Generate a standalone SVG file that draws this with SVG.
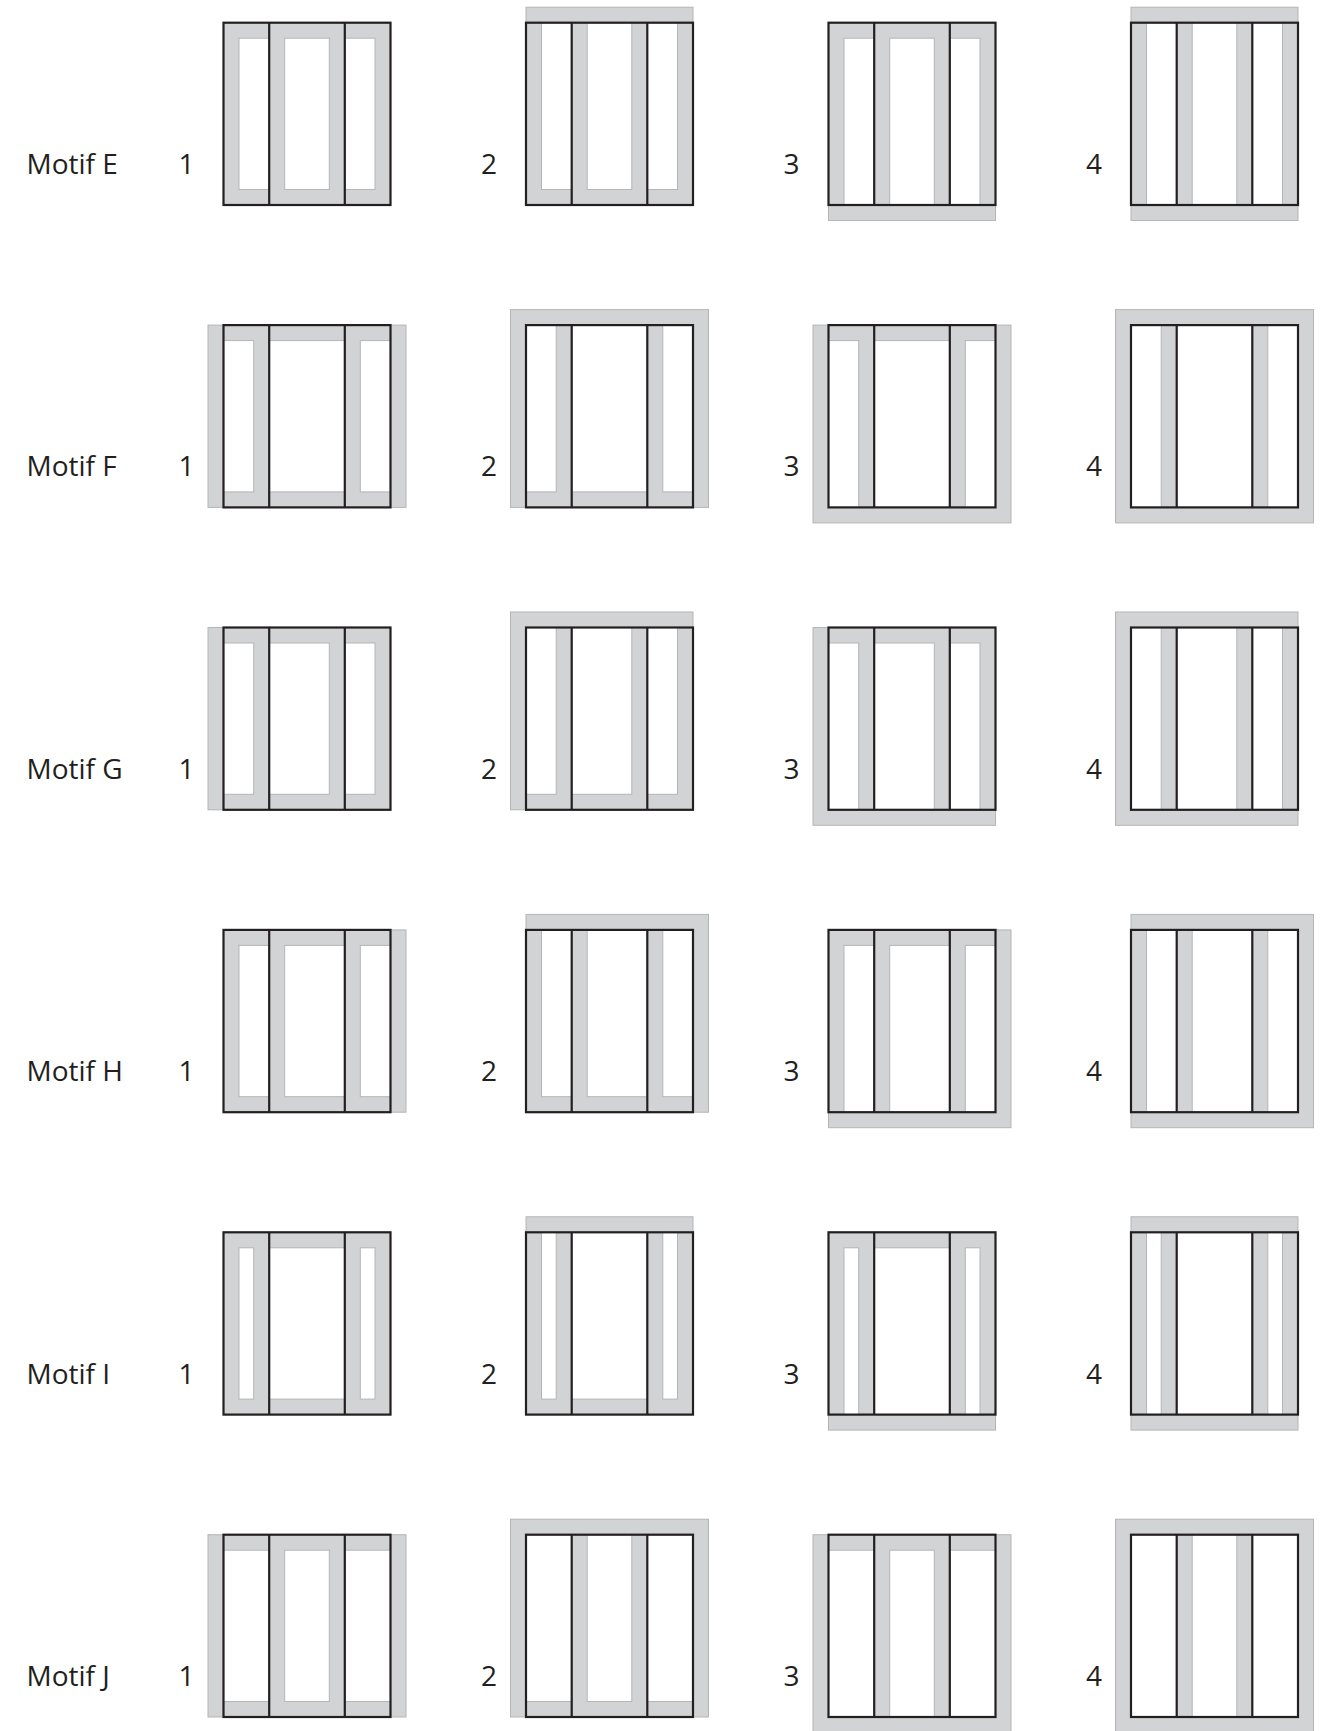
<svg xmlns="http://www.w3.org/2000/svg" xmlns:xlink="http://www.w3.org/1999/xlink" width="1322" height="1731" viewBox="0 0 1322 1731">
<style>
.g{fill:#d1d3d4;stroke:#b4b5b7;stroke-width:1}
.w{fill:#ffffff;stroke:#b4b5b7;stroke-width:1}
.k{fill:none;stroke:#231f20;stroke-width:2.2}
.t{font-family:"Open Sans","Noto Sans",sans-serif;font-size:28px;fill:#231f20}
</style>
<defs>
<g id="frame">
<rect class="k" x="0" y="0" width="167" height="182.3"/>
<line class="k" x1="45.7" y1="0" x2="45.7" y2="182.3"/>
<line class="k" x1="121.3" y1="0" x2="121.3" y2="182.3"/>
</g>
</defs>
<rect x="0" y="0" width="1322" height="1731" fill="#ffffff"/>
<g id="labels">
<text class="t" x="26.5" y="174">Motif E</text>
<text class="t" x="26.5" y="476.4">Motif F</text>
<text class="t" x="26.5" y="778.8">Motif G</text>
<text class="t" x="26.5" y="1081.2">Motif H</text>
<text class="t" x="26.5" y="1383.6">Motif I</text>
<text class="t" x="26.5" y="1686">Motif J</text>
<text class="t" x="178.5" y="174">1</text><text class="t" x="481" y="174">2</text><text class="t" x="783.5" y="174">3</text><text class="t" x="1086" y="174">4</text>
<text class="t" x="178.5" y="476.4">1</text><text class="t" x="481" y="476.4">2</text><text class="t" x="783.5" y="476.4">3</text><text class="t" x="1086" y="476.4">4</text>
<text class="t" x="178.5" y="778.8">1</text><text class="t" x="481" y="778.8">2</text><text class="t" x="783.5" y="778.8">3</text><text class="t" x="1086" y="778.8">4</text>
<text class="t" x="178.5" y="1081.2">1</text><text class="t" x="481" y="1081.2">2</text><text class="t" x="783.5" y="1081.2">3</text><text class="t" x="1086" y="1081.2">4</text>
<text class="t" x="178.5" y="1383.6">1</text><text class="t" x="481" y="1383.6">2</text><text class="t" x="783.5" y="1383.6">3</text><text class="t" x="1086" y="1383.6">4</text>
<text class="t" x="178.5" y="1686">1</text><text class="t" x="481" y="1686">2</text><text class="t" x="783.5" y="1686">3</text><text class="t" x="1086" y="1686">4</text>
</g>

<!-- Motif E -->
<g id="E1" transform="translate(223.5,22.7)">
<rect class="g" x="0" y="0" width="167" height="182.3"/>
<rect class="w" x="15.5" y="15.5" width="30.2" height="151.3"/><rect class="w" x="61.2" y="15.5" width="44.6" height="151.3"/><rect class="w" x="121.3" y="15.5" width="30.2" height="151.3"/>
<use href="#frame"/></g>
<g id="E2" transform="translate(526,22.7)">
<rect class="g" x="0" y="-15.5" width="167" height="197.8"/>
<rect class="w" x="15.5" y="0" width="30.2" height="166.8"/><rect class="w" x="61.2" y="0" width="44.6" height="166.8"/><rect class="w" x="121.3" y="0" width="30.2" height="166.8"/>
<use href="#frame"/></g>
<g id="E3" transform="translate(828.5,22.7)">
<rect class="g" x="0" y="0" width="167" height="197.8"/>
<rect class="w" x="15.5" y="15.5" width="30.2" height="166.8"/><rect class="w" x="61.2" y="15.5" width="44.6" height="166.8"/><rect class="w" x="121.3" y="15.5" width="30.2" height="166.8"/>
<use href="#frame"/></g>
<g id="E4" transform="translate(1131,22.7)">
<rect class="g" x="0" y="-15.5" width="167" height="213.3"/>
<rect class="w" x="15.5" y="0" width="30.2" height="182.3"/><rect class="w" x="61.2" y="0" width="44.6" height="182.3"/><rect class="w" x="121.3" y="0" width="30.2" height="182.3"/>
<use href="#frame"/></g>

<!-- Motif F -->
<g id="F1" transform="translate(223.5,325.1)">
<rect class="g" x="-15.5" y="0" width="198" height="182.3"/>
<rect class="w" x="0" y="15.5" width="30.2" height="151.3"/><rect class="w" x="45.7" y="15.5" width="75.6" height="151.3"/><rect class="w" x="136.8" y="15.5" width="30.2" height="151.3"/>
<use href="#frame"/></g>
<g id="F2" transform="translate(526,325.1)">
<rect class="g" x="-15.5" y="-15.5" width="198" height="197.8"/>
<rect class="w" x="0" y="0" width="30.2" height="166.8"/><rect class="w" x="45.7" y="0" width="75.6" height="166.8"/><rect class="w" x="136.8" y="0" width="30.2" height="166.8"/>
<use href="#frame"/></g>
<g id="F3" transform="translate(828.5,325.1)">
<rect class="g" x="-15.5" y="0" width="198" height="197.8"/>
<rect class="w" x="0" y="15.5" width="30.2" height="166.8"/><rect class="w" x="45.7" y="15.5" width="75.6" height="166.8"/><rect class="w" x="136.8" y="15.5" width="30.2" height="166.8"/>
<use href="#frame"/></g>
<g id="F4" transform="translate(1131,325.1)">
<rect class="g" x="-15.5" y="-15.5" width="198" height="213.3"/>
<rect class="w" x="0" y="0" width="30.2" height="182.3"/><rect class="w" x="45.7" y="0" width="75.6" height="182.3"/><rect class="w" x="136.8" y="0" width="30.2" height="182.3"/>
<use href="#frame"/></g>

<!-- Motif G -->
<g id="G1" transform="translate(223.5,627.5)">
<rect class="g" x="-15.5" y="0" width="182.5" height="182.3"/>
<rect class="w" x="0" y="15.5" width="30.2" height="151.3"/><rect class="w" x="45.7" y="15.5" width="60.1" height="151.3"/><rect class="w" x="121.3" y="15.5" width="30.2" height="151.3"/>
<use href="#frame"/></g>
<g id="G2" transform="translate(526,627.5)">
<rect class="g" x="-15.5" y="-15.5" width="182.5" height="197.8"/>
<rect class="w" x="0" y="0" width="30.2" height="166.8"/><rect class="w" x="45.7" y="0" width="60.1" height="166.8"/><rect class="w" x="121.3" y="0" width="30.2" height="166.8"/>
<use href="#frame"/></g>
<g id="G3" transform="translate(828.5,627.5)">
<rect class="g" x="-15.5" y="0" width="182.5" height="197.8"/>
<rect class="w" x="0" y="15.5" width="30.2" height="166.8"/><rect class="w" x="45.7" y="15.5" width="60.1" height="166.8"/><rect class="w" x="121.3" y="15.5" width="30.2" height="166.8"/>
<use href="#frame"/></g>
<g id="G4" transform="translate(1131,627.5)">
<rect class="g" x="-15.5" y="-15.5" width="182.5" height="213.3"/>
<rect class="w" x="0" y="0" width="30.2" height="182.3"/><rect class="w" x="45.7" y="0" width="60.1" height="182.3"/><rect class="w" x="121.3" y="0" width="30.2" height="182.3"/>
<use href="#frame"/></g>

<!-- Motif H -->
<g id="H1" transform="translate(223.5,929.9)">
<rect class="g" x="0" y="0" width="182.5" height="182.3"/>
<rect class="w" x="15.5" y="15.5" width="30.2" height="151.3"/><rect class="w" x="61.2" y="15.5" width="60.1" height="151.3"/><rect class="w" x="136.8" y="15.5" width="30.2" height="151.3"/>
<use href="#frame"/></g>
<g id="H2" transform="translate(526,929.9)">
<rect class="g" x="0" y="-15.5" width="182.5" height="197.8"/>
<rect class="w" x="15.5" y="0" width="30.2" height="166.8"/><rect class="w" x="61.2" y="0" width="60.1" height="166.8"/><rect class="w" x="136.8" y="0" width="30.2" height="166.8"/>
<use href="#frame"/></g>
<g id="H3" transform="translate(828.5,929.9)">
<rect class="g" x="0" y="0" width="182.5" height="197.8"/>
<rect class="w" x="15.5" y="15.5" width="30.2" height="166.8"/><rect class="w" x="61.2" y="15.5" width="60.1" height="166.8"/><rect class="w" x="136.8" y="15.5" width="30.2" height="166.8"/>
<use href="#frame"/></g>
<g id="H4" transform="translate(1131,929.9)">
<rect class="g" x="0" y="-15.5" width="182.5" height="213.3"/>
<rect class="w" x="15.5" y="0" width="30.2" height="182.3"/><rect class="w" x="61.2" y="0" width="60.1" height="182.3"/><rect class="w" x="136.8" y="0" width="30.2" height="182.3"/>
<use href="#frame"/></g>

<!-- Motif I -->
<g id="I1" transform="translate(223.5,1232.3)">
<rect class="g" x="0" y="0" width="167" height="182.3"/>
<rect class="w" x="15.5" y="15.5" width="14.7" height="151.3"/><rect class="w" x="45.7" y="15.5" width="75.6" height="151.3"/><rect class="w" x="136.8" y="15.5" width="14.7" height="151.3"/>
<use href="#frame"/></g>
<g id="I2" transform="translate(526,1232.3)">
<rect class="g" x="0" y="-15.5" width="167" height="197.8"/>
<rect class="w" x="15.5" y="0" width="14.7" height="166.8"/><rect class="w" x="45.7" y="0" width="75.6" height="166.8"/><rect class="w" x="136.8" y="0" width="14.7" height="166.8"/>
<use href="#frame"/></g>
<g id="I3" transform="translate(828.5,1232.3)">
<rect class="g" x="0" y="0" width="167" height="197.8"/>
<rect class="w" x="15.5" y="15.5" width="14.7" height="166.8"/><rect class="w" x="45.7" y="15.5" width="75.6" height="166.8"/><rect class="w" x="136.8" y="15.5" width="14.7" height="166.8"/>
<use href="#frame"/></g>
<g id="I4" transform="translate(1131,1232.3)">
<rect class="g" x="0" y="-15.5" width="167" height="213.3"/>
<rect class="w" x="15.5" y="0" width="14.7" height="182.3"/><rect class="w" x="45.7" y="0" width="75.6" height="182.3"/><rect class="w" x="136.8" y="0" width="14.7" height="182.3"/>
<use href="#frame"/></g>

<!-- Motif J -->
<g id="J1" transform="translate(223.5,1534.7)">
<rect class="g" x="-15.5" y="0" width="198" height="182.3"/>
<rect class="w" x="0" y="15.5" width="45.7" height="151.3"/><rect class="w" x="61.2" y="15.5" width="44.6" height="151.3"/><rect class="w" x="121.3" y="15.5" width="45.7" height="151.3"/>
<use href="#frame"/></g>
<g id="J2" transform="translate(526,1534.7)">
<rect class="g" x="-15.5" y="-15.5" width="198" height="197.8"/>
<rect class="w" x="0" y="0" width="45.7" height="166.8"/><rect class="w" x="61.2" y="0" width="44.6" height="166.8"/><rect class="w" x="121.3" y="0" width="45.7" height="166.8"/>
<use href="#frame"/></g>
<g id="J3" transform="translate(828.5,1534.7)">
<rect class="g" x="-15.5" y="0" width="198" height="197.8"/>
<rect class="w" x="0" y="15.5" width="45.7" height="166.8"/><rect class="w" x="61.2" y="15.5" width="44.6" height="166.8"/><rect class="w" x="121.3" y="15.5" width="45.7" height="166.8"/>
<use href="#frame"/></g>
<g id="J4" transform="translate(1131,1534.7)">
<rect class="g" x="-15.5" y="-15.5" width="198" height="213.3"/>
<rect class="w" x="0" y="0" width="45.7" height="182.3"/><rect class="w" x="61.2" y="0" width="44.6" height="182.3"/><rect class="w" x="121.3" y="0" width="45.7" height="182.3"/>
<use href="#frame"/></g>
<g id="connectors"/>
</svg>
